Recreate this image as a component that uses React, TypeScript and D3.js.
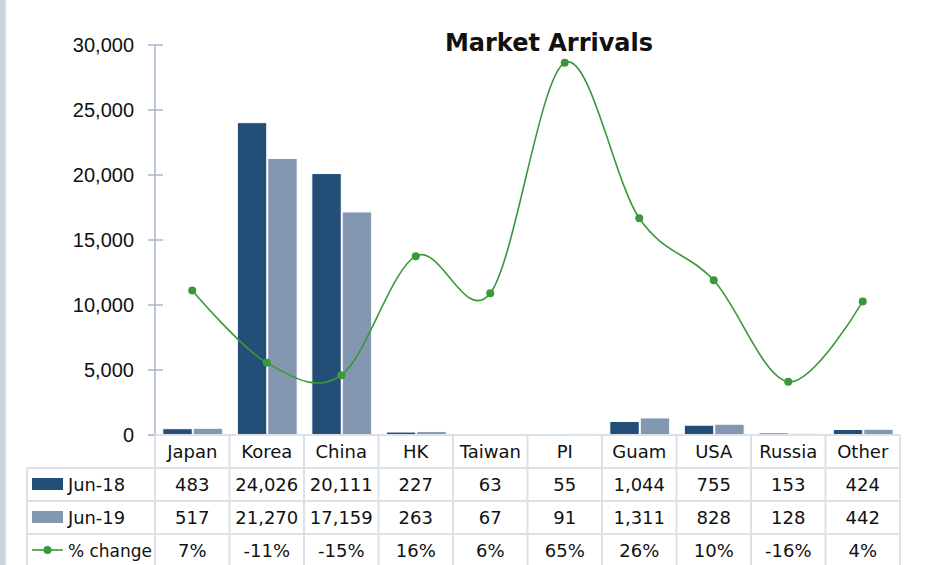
import React from "react";
import * as d3 from "d3";

const categories = ["Japan", "Korea", "China", "HK", "Taiwan", "PI", "Guam", "USA", "Russia", "Other"];
const jun18 = [483, 24026, 20111, 227, 63, 55, 1044, 755, 153, 424];
const jun19 = [517, 21270, 17159, 263, 67, 91, 1311, 828, 128, 442];
const pctChange = [0.0704, -0.1147, -0.1468, 0.1586, 0.0635, 0.6545, 0.2557, 0.0967, -0.1634, 0.0425];
const pctLabels = ["7%", "-11%", "-15%", "16%", "6%", "65%", "26%", "10%", "-16%", "4%"];
const yTicks = [0, 5000, 10000, 15000, 20000, 25000, 30000];
const seriesNames = ["Jun-18", "Jun-19", "% change"];

const W = 931;
const H = 565;
const plotLeft = 155;
const plotRight = 900;
const plotTop = 45;
const plotBottom = 435;
const rowH = 33;
const tableLeft = 27;

const C_DARK = "#224E78";
const C_LIGHT = "#8497B0";
const C_GREEN = "#3A983A";
const C_AXIS = "#A7B6CB";
const C_GRID = "#DCE1E8";
const TABLE_FONT = "'DejaVu Sans', sans-serif";

export default function App() {
  const x = d3.scaleBand<string>().domain(categories).range([plotLeft, plotRight]).padding(0);
  const y = d3.scaleLinear().domain([0, 30000]).range([plotBottom, plotTop]);
  const y2 = d3.scaleLinear().domain([-0.3, 0.7]).range([plotBottom, plotTop]);
  const step = x.bandwidth();
  const barW = step * 0.395;
  const groupOff = step * 0.105;
  const fmt = d3.format(",");

  const lineGen = d3
    .line<number>()
    .x((_, i) => (x(categories[i]) as number) + step / 2)
    .y((d) => y2(d))
    .curve(d3.curveCatmullRom.alpha(0));

  const rowsY = [plotBottom, plotBottom + rowH, plotBottom + 2 * rowH, plotBottom + 3 * rowH];
  const tableBottom = H + 5;
  const labelLens = [57, 57, 84];

  return (
    <svg
      width={W}
      height={H}
      style={{ position: "absolute", left: 0, top: 0, background: "#ffffff" }}
    >
      <rect x={0} y={0} width={W} height={H} fill="#ffffff" />
      <rect x={0} y={0} width={5} height={H} fill="#CBD2DC" />
      <rect x={5} y={0} width={1.5} height={H} fill="#E3E7ED" />

      {/* title */}
      <text
        x={549}
        y={51}
        textAnchor="middle"
        fontFamily="'DejaVu Sans', sans-serif"
        fontWeight="bold"
        fontSize={24}
        fill="#111"
      >
        Market Arrivals
      </text>

      {/* y axis */}
      <line x1={plotLeft} x2={plotLeft} y1={plotTop} y2={plotBottom} stroke={C_AXIS} strokeWidth={1.5} />
      {yTicks.map((t) => (
        <g key={t}>
          <line x1={plotLeft - 7} x2={plotLeft + 8} y1={y(t)} y2={y(t)} stroke={C_AXIS} strokeWidth={1.5} />
          <text
            x={134}
            y={y(t)}
            dy="0.36em"
            textAnchor="end"
            fontFamily="'Liberation Sans', Arial, sans-serif"
            fontSize={20}
            fill="#111"
          >
            {fmt(t)}
          </text>
        </g>
      ))}

      {/* bars */}
      {categories.map((c, i) => {
        const bx = (x(c) as number) + groupOff;
        return (
          <g key={c}>
            <rect
              x={bx}
              y={y(jun18[i])}
              width={barW}
              height={plotBottom - y(jun18[i])}
              fill={C_DARK}
              stroke="#fff"
              strokeWidth={1}
            />
            <rect
              x={bx + barW + 1}
              y={y(jun19[i])}
              width={barW}
              height={plotBottom - y(jun19[i])}
              fill={C_LIGHT}
              stroke="#fff"
              strokeWidth={1}
            />
          </g>
        );
      })}

      {/* x axis line */}
      <line x1={plotLeft - 7} x2={plotRight} y1={plotBottom} y2={plotBottom} stroke={C_GRID} strokeWidth={2} />
      <line x1={plotLeft - 7} x2={plotLeft} y1={plotBottom} y2={plotBottom} stroke={C_AXIS} strokeWidth={1.5} />

      {/* line series */}
      <path d={lineGen(pctChange) || ""} fill="none" stroke={C_GREEN} strokeWidth={1.6} />
      {pctChange.map((v, i) => (
        <circle key={i} cx={(x(categories[i]) as number) + step / 2} cy={y2(v)} r={4} fill={C_GREEN} />
      ))}

      {/* data table grid */}
      {rowsY.slice(1).map((ry) => (
        <line key={ry} x1={tableLeft} x2={plotRight} y1={ry} y2={ry} stroke={C_GRID} strokeWidth={2} />
      ))}
      <line x1={tableLeft} x2={tableLeft} y1={rowsY[1]} y2={tableBottom} stroke={C_GRID} strokeWidth={2} />
      {categories.map((c) => (
        <line
          key={c}
          x1={x(c) as number}
          x2={x(c) as number}
          y1={plotBottom}
          y2={tableBottom}
          stroke={C_GRID}
          strokeWidth={2}
        />
      ))}
      <line x1={plotRight} x2={plotRight} y1={plotBottom} y2={tableBottom} stroke={C_GRID} strokeWidth={2} />

      {/* header row */}
      {categories.map((c) => (
        <text
          key={c}
          x={(x(c) as number) + step / 2}
          y={rowsY[0] + rowH / 2}
          dy="0.36em"
          textAnchor="middle"
          fontFamily={TABLE_FONT}
          fontSize={18}
          fill="#111"
        >
          {c}
        </text>
      ))}

      {/* series rows */}
      {[jun18.map(fmt), jun19.map(fmt), pctLabels].map((row, r) => (
        <g key={r}>
          {row.map((v, i) => (
            <text
              key={i}
              x={(x(categories[i]) as number) + step / 2}
              y={rowsY[r + 1] + rowH / 2}
              dy="0.36em"
              textAnchor="middle"
              fontFamily={TABLE_FONT}
              fontSize={18}
              fill="#111"
            >
              {v}
            </text>
          ))}
          <text
            x={68}
            y={rowsY[r + 1] + rowH / 2}
            dy="0.36em"
            fontFamily={TABLE_FONT}
            fontSize={18}
            fill="#111"
            textLength={labelLens[r]}
            lengthAdjust="spacingAndGlyphs"
          >
            {seriesNames[r]}
          </text>
        </g>
      ))}

      {/* legend keys */}
      <rect x={32} y={rowsY[1] + 10} width={31} height={12} fill={C_DARK} />
      <rect x={32} y={rowsY[2] + 10} width={31} height={12} fill={C_LIGHT} />
      <line x1={32} x2={63} y1={rowsY[3] + 16} y2={rowsY[3] + 16} stroke={C_GREEN} strokeWidth={1.6} />
      <circle cx={47.5} cy={rowsY[3] + 16} r={4} fill={C_GREEN} />
    </svg>
  );
}
